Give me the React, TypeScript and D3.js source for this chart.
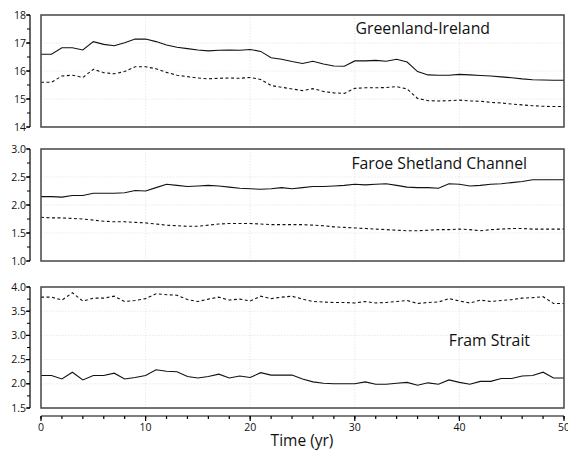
import React from "react";
import * as d3 from "d3";

const years = d3.range(0, 51);

const giSolid = [16.60,16.60,16.83,16.83,16.75,17.05,16.95,16.90,17.01,17.14,17.14,17.05,16.93,16.85,16.80,16.75,16.72,16.74,16.75,16.74,16.77,16.70,16.47,16.42,16.34,16.27,16.35,16.25,16.18,16.17,16.36,16.36,16.38,16.35,16.42,16.32,15.98,15.86,15.85,15.85,15.88,15.86,15.84,15.82,15.79,15.76,15.72,15.69,15.68,15.67,15.67];
const giDashed = [15.60,15.60,15.82,15.85,15.77,16.06,15.94,15.90,15.98,16.15,16.15,16.08,15.95,15.85,15.80,15.75,15.72,15.74,15.75,15.74,15.77,15.70,15.48,15.42,15.36,15.30,15.37,15.27,15.22,15.20,15.38,15.40,15.40,15.41,15.44,15.36,15.02,14.94,14.93,14.94,14.96,14.93,14.92,14.88,14.86,14.82,14.79,14.76,14.74,14.73,14.73];

const fscSolid = [2.15,2.15,2.14,2.17,2.17,2.21,2.21,2.21,2.22,2.26,2.25,2.31,2.37,2.35,2.33,2.34,2.35,2.34,2.32,2.30,2.29,2.28,2.29,2.31,2.29,2.31,2.33,2.33,2.34,2.35,2.37,2.36,2.37,2.38,2.35,2.32,2.31,2.31,2.30,2.38,2.37,2.34,2.35,2.37,2.38,2.40,2.42,2.45,2.45,2.45,2.45];
const fscDashed = [1.78,1.77,1.77,1.76,1.75,1.73,1.71,1.70,1.70,1.69,1.68,1.66,1.64,1.63,1.62,1.62,1.64,1.66,1.67,1.67,1.67,1.66,1.65,1.65,1.65,1.65,1.64,1.63,1.61,1.60,1.59,1.58,1.57,1.56,1.55,1.54,1.54,1.55,1.56,1.56,1.57,1.56,1.54,1.56,1.57,1.58,1.58,1.57,1.57,1.57,1.57];

const fsSolid = [2.17,2.17,2.10,2.24,2.08,2.17,2.17,2.22,2.10,2.13,2.17,2.29,2.26,2.25,2.15,2.12,2.15,2.20,2.12,2.16,2.13,2.23,2.18,2.18,2.18,2.10,2.04,2.01,2.00,2.00,2.00,2.04,1.99,1.99,2.01,2.03,1.97,2.02,1.99,2.08,2.03,1.99,2.05,2.05,2.11,2.11,2.16,2.17,2.24,2.12,2.12];
const fsDashed = [3.79,3.79,3.73,3.88,3.71,3.77,3.77,3.81,3.70,3.72,3.76,3.86,3.84,3.83,3.74,3.70,3.75,3.79,3.73,3.75,3.71,3.81,3.76,3.79,3.81,3.75,3.70,3.69,3.68,3.68,3.67,3.70,3.67,3.68,3.70,3.72,3.66,3.68,3.69,3.76,3.71,3.67,3.73,3.70,3.72,3.74,3.77,3.78,3.80,3.66,3.66];

const xTicksMajor = [0, 10, 20, 30, 40, 50];
const xTicksMinor = d3.range(0, 51, 2);

type Panel = {
  title: string;
  domain: [number, number];
  top: number;
  bottom: number;
  majorStep: number;
  minorStep: number;
  fmt: string;
  solid: number[];
  dashed: number[];
  titleRight: number;
  titleBaseline: number;
};

const panels: Panel[] = [
  { title: "Greenland-Ireland", domain: [14, 18], top: 15, bottom: 127, majorStep: 1, minorStep: 0.5, fmt: "d", solid: giSolid, dashed: giDashed, titleRight: 490, titleBaseline: 34 },
  { title: "Faroe Shetland Channel", domain: [1, 3], top: 149, bottom: 261, majorStep: 0.5, minorStep: 0.25, fmt: ".1f", solid: fscSolid, dashed: fscDashed, titleRight: 527, titleBaseline: 169 },
  { title: "Fram Strait", domain: [1.5, 4], top: 287, bottom: 408, majorStep: 0.5, minorStep: 0.25, fmt: ".1f", solid: fsSolid, dashed: fsDashed, titleRight: 530, titleBaseline: 346 },
];

const FONT = "'Open Sans', 'DejaVu Sans', sans-serif";
const LEFT = 41;
const RIGHT = 564;
const YAXIS_X = 30;
const XAXIS_Y = 416;

export default function App() {
  const x = d3.scaleLinear().domain([0, 50]).range([LEFT, RIGHT]);
  return (
    <svg width={568} height={453} style={{ position: "absolute", left: 0, top: 0, background: "#fff" }} fontFamily={FONT}>
      {panels.map((p, i) => {
        const y = d3.scaleLinear().domain(p.domain).range([p.bottom, p.top]);
        const line = d3.line<number>().x((_, j) => x(years[j])).y((v) => y(v));
        const majors = d3.range(p.domain[0], p.domain[1] + 1e-9, p.majorStep);
        const minors = d3.range(p.domain[0], p.domain[1] + 1e-9, p.minorStep);
        const fmt = d3.format(p.fmt);
        return (
          <g key={i}>
            {majors.slice(1, -1).map((t) => (
              <line key={"gy" + t} x1={LEFT} x2={RIGHT} y1={y(t)} y2={y(t)} stroke="#e4e4e4" strokeWidth={0.8} strokeDasharray="1.5,1.5" />
            ))}
            {xTicksMajor.slice(1, -1).map((t) => (
              <line key={"gx" + t} x1={x(t)} x2={x(t)} y1={p.top} y2={p.bottom} stroke="#e4e4e4" strokeWidth={0.8} strokeDasharray="1.5,1.5" />
            ))}
            <path d={line(p.solid) || ""} fill="none" stroke="#111" strokeWidth={1.1} />
            <path d={line(p.dashed) || ""} fill="none" stroke="#111" strokeWidth={1.1} strokeDasharray="3,2.5" />
            <rect x={LEFT} y={p.top} width={RIGHT - LEFT} height={p.bottom - p.top} fill="none" stroke="#444" strokeWidth={1.5} />
            <line x1={YAXIS_X} x2={YAXIS_X} y1={p.top} y2={p.bottom} stroke="#000" strokeWidth={1.2} />
            {minors.map((t) => (
              <line key={"ym" + t} x1={YAXIS_X - 3} x2={YAXIS_X} y1={y(t)} y2={y(t)} stroke="#000" strokeWidth={1} />
            ))}
            {majors.map((t) => (
              <g key={"yl" + t}>
                <line x1={YAXIS_X - 4} x2={YAXIS_X} y1={y(t)} y2={y(t)} stroke="#000" strokeWidth={1.2} />
                <text x={YAXIS_X - 4} y={y(t)} dy="0.35em" textAnchor="end" fontSize={10.5} fill="#111">{fmt(t)}</text>
              </g>
            ))}
            <text x={p.titleRight} y={p.titleBaseline} textAnchor="end" fontSize={15.8} fill="#111">{p.title}</text>
          </g>
        );
      })}
      <line x1={LEFT} x2={RIGHT} y1={XAXIS_Y} y2={XAXIS_Y} stroke="#000" strokeWidth={1.2} />
      {xTicksMinor.map((t) => (
        <line key={"xm" + t} x1={x(t)} x2={x(t)} y1={XAXIS_Y} y2={XAXIS_Y + 3} stroke="#000" strokeWidth={1.2} />
      ))}
      {xTicksMajor.map((t) => (
        <g key={"xl" + t}>
          <line x1={x(t)} x2={x(t)} y1={XAXIS_Y} y2={XAXIS_Y + 5} stroke="#000" strokeWidth={1.2} />
          <text x={x(t)} y={XAXIS_Y + 15} textAnchor="middle" fontSize={10.5} fill="#111">{t}</text>
        </g>
      ))}
      <text x={302} y={446} textAnchor="middle" fontSize={15.5} fill="#111">Time (yr)</text>
    </svg>
  );
}
